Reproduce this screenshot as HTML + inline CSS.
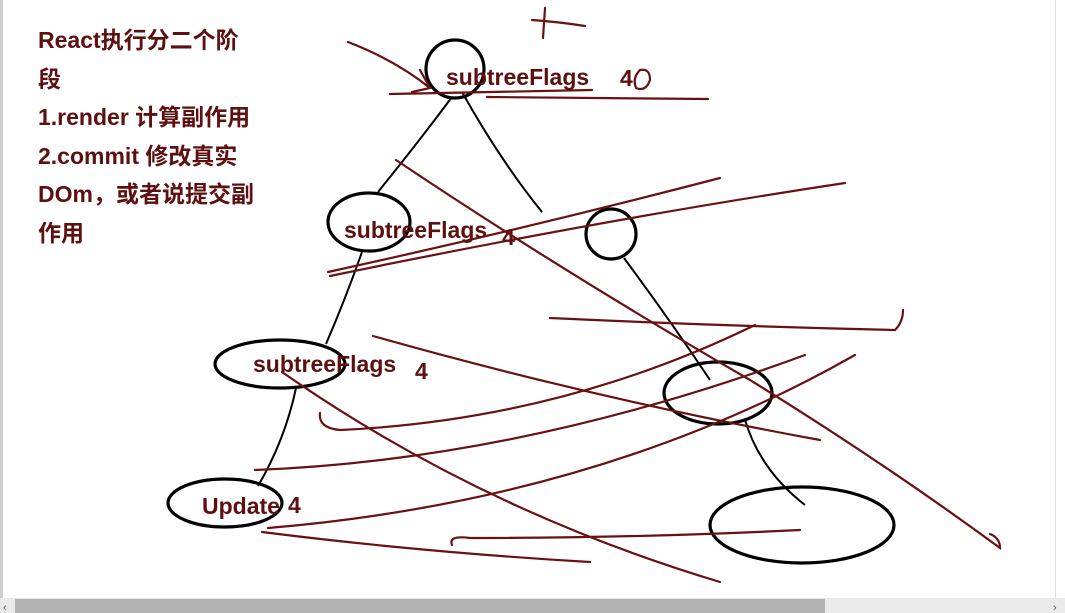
<!DOCTYPE html>
<html><head><meta charset="utf-8"><style>
html,body{margin:0;padding:0;width:1065px;height:613px;overflow:hidden;background:#fff;}
svg{position:absolute;left:0;top:0;}
.t{font-family:"Liberation Sans","Noto Sans CJK SC",sans-serif;font-weight:bold;fill:#5e0f0f;font-size:23px;}
.r{stroke:#6a1010;stroke-width:2.2;fill:none;stroke-linecap:round;}
.k{stroke:#000;stroke-width:3.2;fill:none;}
.b{stroke:#000;stroke-width:2;fill:none;}
</style></head><body>
<svg width="1065" height="613" viewBox="0 0 1065 613">
<rect x="0" y="0" width="3" height="598" fill="#cfcfcf"/>
<rect x="1055" y="0" width="1" height="598" fill="#e0e0e0"/>
<text class="t" x="38" y="48">React执行分二个阶</text>
<text class="t" x="38" y="87">段</text>
<text class="t" x="38" y="125">1.render 计算副作用</text>
<text class="t" x="38" y="164">2.commit 修改真实</text>
<text class="t" x="38" y="202">DOm，或者说提交副</text>
<text class="t" x="38" y="241">作用</text>

<path class="b" d="M452 97 Q420 140 378 192"/>
<path class="b" d="M462 92 Q500 160 542 212"/>
<path class="b" d="M362 252 Q345 300 326 344"/>
<path class="b" d="M296 388 Q285 440 258 486"/>
<path class="b" d="M624 258 Q670 320 710 380"/>
<path class="b" d="M745 420 Q760 470 805 505"/>

<ellipse class="k" cx="455" cy="69" rx="29" ry="29"/>
<ellipse class="k" cx="369" cy="222" rx="41" ry="29"/>
<ellipse class="k" cx="611" cy="234" rx="25" ry="25"/>
<ellipse class="k" cx="280" cy="364" rx="65" ry="24"/>
<ellipse class="k" cx="718" cy="393" rx="54" ry="31"/>
<ellipse class="k" cx="225" cy="503" rx="57" ry="24"/>
<ellipse class="k" cx="802" cy="525" rx="92" ry="38"/>

<text class="t" x="446" y="85">subtreeFlags</text>
<text class="t" x="620" y="86" font-weight="normal">4</text>
<path class="r" d="M640 70 Q632 78 636 88 Q646 92 650 80 Q650 68 640 70"/>
<text class="t" x="344" y="238">subtreeFlags</text>
<text class="t" x="502" y="245" font-weight="normal">4</text>
<text class="t" x="253" y="372">subtreeFlags</text>
<text class="t" x="415" y="379" font-weight="normal">4</text>
<text class="t" x="202" y="514">Update</text>
<text class="t" x="288" y="513" font-weight="normal">4</text>

<path class="r" d="M545 8 L543 38 M532 20 Q560 22 585 26"/>
<path class="r" d="M348 42 Q395 60 430 88 M420 70 L430 88 L412 92"/>
<path class="r" d="M390 94 Q490 92 592 90"/>
<path class="r" d="M487 97 Q600 98 708 99"/>
<path class="r" d="M396 160 Q560 270 750 380 Q880 460 1000 548 Q1000 538 990 534"/>
<path class="r" d="M328 272 Q520 230 720 178"/>
<path class="r" d="M330 276 Q600 220 845 183"/>
<path class="r" d="M550 318 Q720 326 895 330 Q903 322 903 310"/>
<path class="r" d="M373 336 Q600 400 820 440"/>
<path class="r" d="M320 413 Q318 428 340 430 Q560 420 755 325"/>
<path class="r" d="M255 470 Q520 460 805 355"/>
<path class="r" d="M268 528 Q600 500 855 355"/>
<path class="r" d="M282 372 Q480 510 720 582"/>
<path class="r" d="M452 545 Q448 535 470 538 Q640 538 800 530"/>
<path class="r" d="M262 532 Q420 552 590 562"/>

<rect x="0" y="598" width="1065" height="15" fill="#eaeaea"/>
<rect x="15" y="599" width="810" height="14" fill="#b2b2b2"/>
<text x="3" y="611" font-size="11" fill="#555" font-family="Liberation Sans,sans-serif">‹</text>
<text x="1053" y="611" font-size="11" fill="#555" font-family="Liberation Sans,sans-serif">›</text>
</svg>
</body></html>
